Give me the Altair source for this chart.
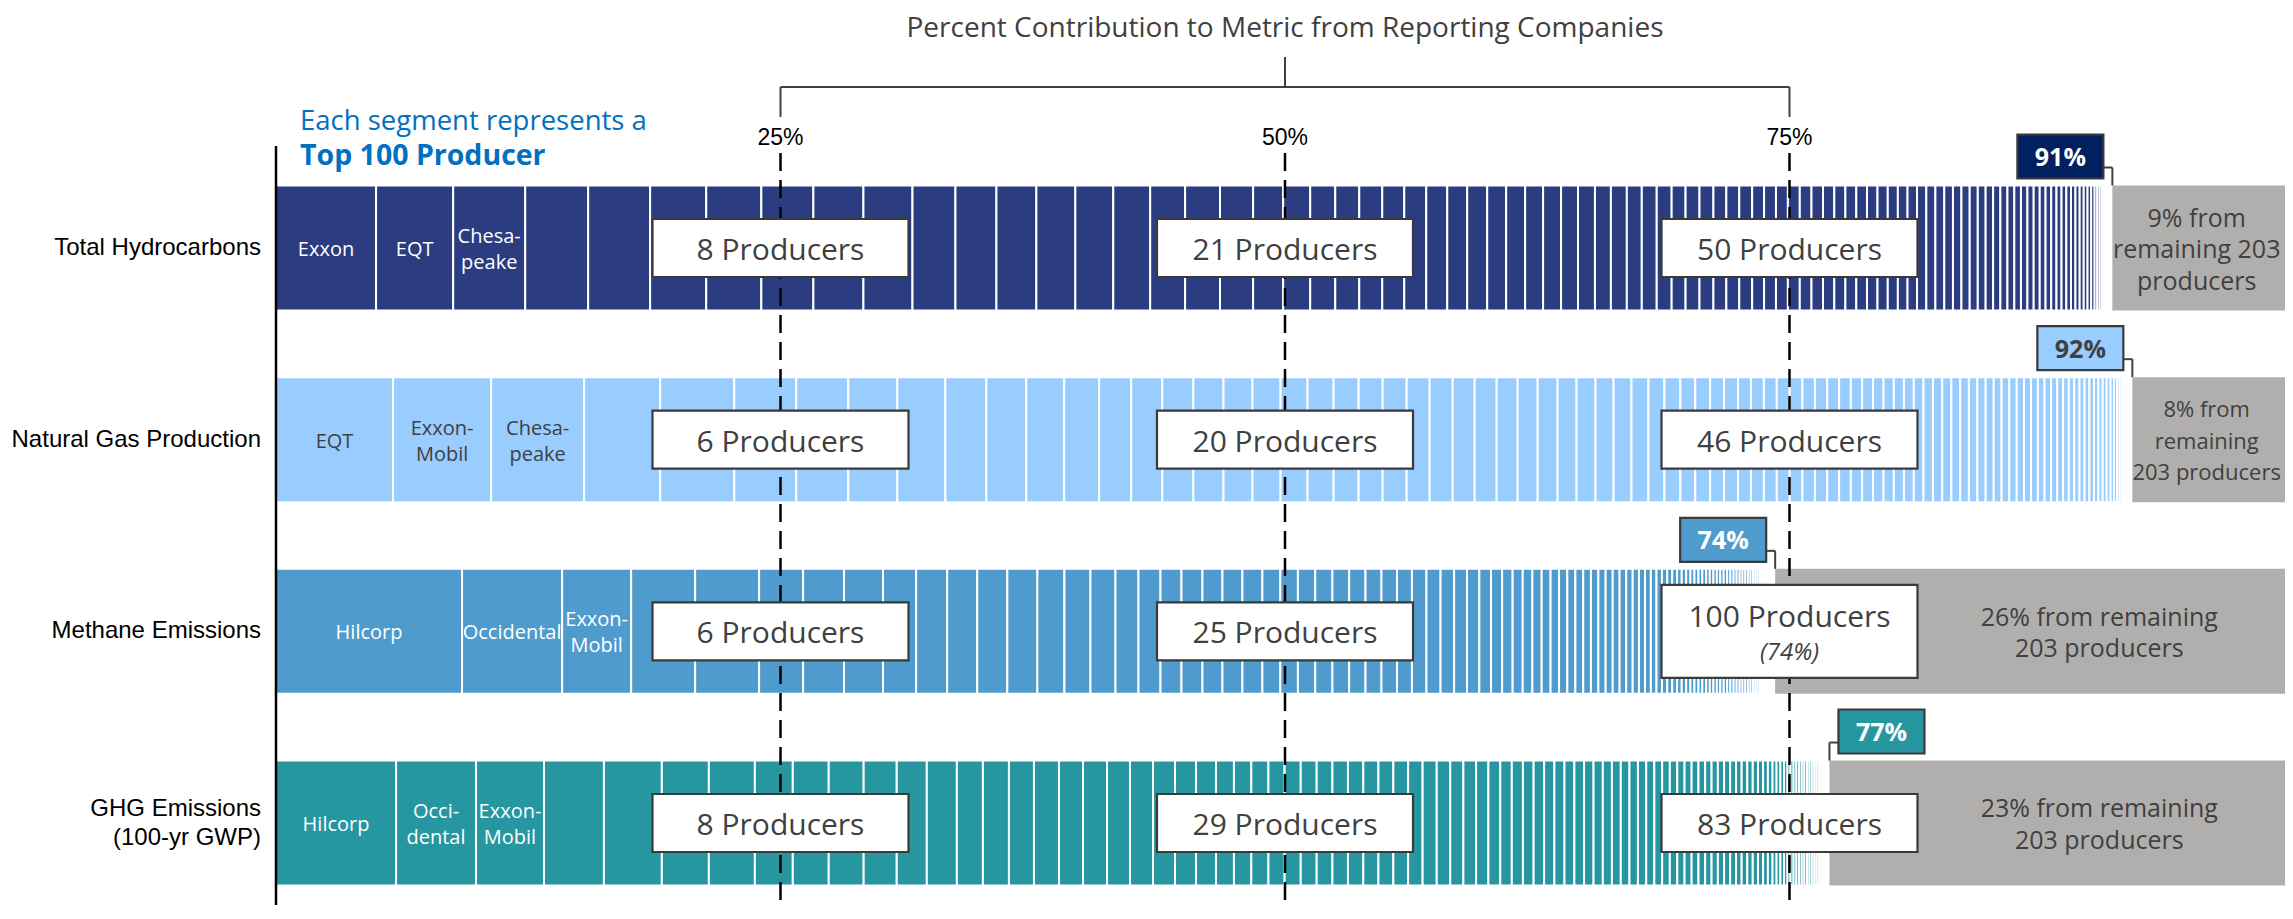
import altair as alt
import pandas as pd
import numpy as np

# ---------------- data ----------------
metrics = ["Total Hydrocarbons", "Natural Gas Production", "Methane Emissions",
           "GHG Emissions\n(100-yr GWP)"]
bar_colors = ["#2B3C80", "#99CCFF", "#4F9BCD", "#2696A0"]

# percent contribution of each of the top-100 producers (largest first)
shares_total_hc = [
    4.96, 3.82, 3.57, 3.12, 3.07, 2.78, 2.73, 2.58, 2.48, 2.43,
    2.13, 2.03, 1.98, 1.93, 1.88, 1.83, 1.73, 1.73, 1.64, 1.49,
    1.34, 1.24, 1.19, 1.14, 1.09, 1.09, 1.04, 0.99, 0.99, 0.94,
    0.94, 0.89, 0.89, 0.84, 0.84, 0.79, 0.79, 0.74, 0.74, 0.74,
    0.69, 0.69, 0.69, 0.64, 0.64, 0.64, 0.59, 0.59, 0.59,
    0.59, 0.58, 0.57, 0.56, 0.55, 0.54, 0.53, 0.52, 0.51, 0.50,
    0.48, 0.47, 0.46, 0.45, 0.44, 0.43, 0.42, 0.41, 0.40, 0.39,
    0.37, 0.36, 0.35, 0.34, 0.33, 0.32, 0.31, 0.30, 0.29, 0.28,
    0.26, 0.25, 0.24, 0.23, 0.22, 0.21, 0.20, 0.19, 0.18, 0.17,
    0.13, 0.12, 0.11, 0.10, 0.09, 0.08, 0.07, 0.06, 0.05, 0.04, 0.03,
]
shares_nat_gas = [
    5.80, 4.86, 4.61, 3.77, 3.67, 3.07, 2.58, 2.43, 2.38, 2.03,
    1.98, 1.88, 1.73, 1.59, 1.54, 1.54, 1.49, 1.44, 1.39,
    1.34, 1.29, 1.24, 1.19, 1.19, 1.14, 1.14, 1.09, 1.09, 1.04,
    0.99, 0.99, 0.94, 0.94, 0.89, 0.89, 0.84, 0.79, 0.79, 0.74,
    0.74, 0.69, 0.69, 0.64, 0.64, 0.64,
    0.64, 0.63, 0.62, 0.61, 0.59, 0.58, 0.56, 0.54, 0.52, 0.51,
    0.50, 0.49, 0.48, 0.47, 0.46, 0.45, 0.44, 0.43, 0.42, 0.41,
    0.40, 0.39, 0.38, 0.37, 0.36, 0.35, 0.34, 0.33, 0.32, 0.31,
    0.29, 0.28, 0.27, 0.26, 0.25, 0.24, 0.23, 0.22, 0.21, 0.20,
    0.19, 0.17, 0.15, 0.13, 0.11, 0.10, 0.08, 0.07, 0.06, 0.05,
    0.04, 0.04, 0.03, 0.03, 0.02,
]
shares_methane = [
    9.22, 4.96, 3.42, 3.17, 3.17, 2.18, 2.03, 1.93, 1.64, 1.54,
    1.49, 1.49, 1.49, 1.34, 1.29, 1.24, 1.14, 1.09, 1.04, 1.04,
    0.99, 0.99, 0.99, 0.89,
    0.87, 0.86, 0.85, 0.83, 0.81, 0.79, 0.77, 0.74, 0.72, 0.70,
    0.67, 0.64, 0.61, 0.58, 0.55, 0.52, 0.50, 0.48, 0.46, 0.44,
    0.42, 0.41, 0.40, 0.39, 0.38, 0.37, 0.36, 0.35, 0.34, 0.33,
    0.32, 0.31, 0.30, 0.29, 0.28, 0.27, 0.26, 0.25, 0.24, 0.23,
    0.22, 0.21, 0.20, 0.20, 0.19, 0.19, 0.18, 0.18, 0.17, 0.17,
    0.17, 0.17, 0.16, 0.16, 0.15, 0.15, 0.14, 0.14, 0.13, 0.13,
    0.12, 0.12, 0.11, 0.11, 0.10, 0.10, 0.09, 0.09, 0.08, 0.08,
    0.06, 0.05, 0.04, 0.03, 0.02, 0.02,
]
shares_ghg = [
    5.95, 3.96, 3.37, 2.97, 2.87, 2.33, 2.28, 1.88, 1.78, 1.73,
    1.64, 1.49, 1.49, 1.29, 1.29, 1.24, 1.24, 1.19, 1.19, 1.14,
    1.14, 1.09, 1.04, 0.99, 0.89, 0.86, 0.85, 0.80,
    0.80, 0.79, 0.78, 0.77, 0.76, 0.75, 0.74, 0.73, 0.72, 0.70,
    0.67, 0.65, 0.63, 0.61, 0.59, 0.57, 0.55, 0.53, 0.52, 0.51,
    0.50, 0.49, 0.48, 0.47, 0.46, 0.45, 0.44, 0.43, 0.42, 0.41,
    0.40, 0.39, 0.38, 0.37, 0.36, 0.35, 0.34, 0.33, 0.32, 0.31,
    0.31, 0.30, 0.29, 0.28, 0.28, 0.27, 0.26, 0.25, 0.24, 0.23,
    0.20, 0.19, 0.18, 0.17,
    0.15, 0.15, 0.14, 0.14, 0.13, 0.13, 0.13, 0.12, 0.12, 0.12,
    0.11, 0.11, 0.10, 0.10, 0.09, 0.09, 0.08, 0.07,
]
shares = [shares_total_hc, shares_nat_gas, shares_methane, shares_ghg]

top_names = [["Exxon", "EQT", "Chesa-\npeake"],
             ["EQT", "Exxon-\nMobil", "Chesa-\npeake"],
             ["Hilcorp", "Occidental", "Exxon-\nMobil"],
             ["Hilcorp", "Occi-\ndental", "Exxon-\nMobil"]]
name_colors = ["white", "#404040", "white", "white"]

thresholds = [25, 50, 75]
threshold_labels = ["25%", "50%", "75%"]
producers_needed = [[8, 21, 50], [6, 20, 46], [6, 25, 100], [8, 29, 83]]
box_notes = [["", "", ""], ["", "", ""], ["", "", "(74%)"], ["", "", ""]]

top100_labels = ["91%", "92%", "74%", "77%"]
callout_fill = ["#002060", "#99CCFF", "#4F9BCD", "#2696A0"]
callout_text_color = ["white", "#404040", "white", "white"]
callout_side = ["left", "left", "left", "right"]

remaining_labels = ["9% from\nremaining 203\nproducers",
                    "8% from\nremaining\n203 producers",
                    "26% from remaining\n203 producers",
                    "23% from remaining\n203 producers"]

title_text = "Percent Contribution to Metric from Reporting Companies"

# ---------------- layout constants ----------------
W, H = 2009, 738
PAD_L, PAD_T = 268, 159
PXP = 20.18                # pixels per percent
X_MAX = W / PXP
ROW_PX = 191.67            # pixels between row centres
Y_TOP = -81 / ROW_PX
Y_BOT = Y_TOP + H / ROW_PX
BAR_HALF = 62.5
BOX_HALF_W = 128
REM_FONT = [25, 22, 25, 25]
NAME_LH, REM_LH, ROW_LH = 26, 31.5, 29
GRAY = "#B0AFAE"
DARK = "#404040"
FONT = "Open Sans"
AFONT = "Liberation Sans"

XS = alt.Scale(domain=[0, X_MAX], nice=False, zero=False)
YS = alt.Scale(domain=[Y_TOP, Y_BOT], reverse=True, nice=False, zero=False)


def X(f):
    return alt.X(f"{f}:Q", scale=XS, axis=None)


def Y(f):
    return alt.Y(f"{f}:Q", scale=YS, axis=None)


def X2(f):
    return alt.X2(f"{f}:Q")


def Y2(f):
    return alt.Y2(f"{f}:Q")


def block_shift(text, line_height):
    """offset (row units) that vertically centres a multi-line text block"""
    n = text.count("\n") + 1
    return -(n - 1) / 2 * line_height / ROW_PX


# ---------------- tables ----------------
seg, names, boxes, box_txt, call, gray, rem, rowlab = [], [], [], [], [], [], [], []
for i, (m, sh) in enumerate(zip(metrics, shares)):
    cum = np.concatenate([[0.0], np.cumsum(sh)])
    total = float(cum[-1])
    for k in range(len(sh)):
        seg.append(dict(metric=m, x0=float(cum[k]), x1=float(cum[k + 1]),
                        y0=i - BAR_HALF / ROW_PX, y1=i + BAR_HALF / ROW_PX))
    for k, nm in enumerate(top_names[i]):
        names.append(dict(x=float(cum[k] + cum[k + 1]) / 2,
                          y=i + 2 / ROW_PX + block_shift(nm, NAME_LH), t=nm,
                          c=name_colors[i]))
    gray.append(dict(x0=total, x1=100.0, y0=i - BAR_HALF / ROW_PX, y1=i + BAR_HALF / ROW_PX))
    for j, thr in enumerate(thresholds):
        note = box_notes[i][j]
        hh = 46.5 if note else 29
        boxes.append(dict(x0=thr - BOX_HALF_W / PXP, x1=thr + BOX_HALF_W / PXP,
                          y0=i - hh / ROW_PX, y1=i + hh / ROW_PX))
        box_txt.append(dict(x=float(thr), y=i + (-13 if note else 3) / ROW_PX,
                            t=f"{producers_needed[i][j]} Producers", kind="main"))
        if note:
            box_txt.append(dict(x=float(thr), y=i + 22 / ROW_PX, t=note, kind="note"))
    if callout_side[i] == "left":
        bx1 = total - 9 / PXP
        bx0 = bx1 - 86 / PXP
        cx0, cx1 = bx1, total
    else:
        bx0 = total + 9 / PXP
        bx1 = bx0 + 86 / PXP
        cx0, cx1 = total, bx0
    call.append(dict(bx0=bx0, bx1=bx1, by0=i - 113.5 / ROW_PX, by1=i - 69.5 / ROW_PX,
                     tx=(bx0 + bx1) / 2, ty=i - 90 / ROW_PX, t=top100_labels[i],
                     fc=callout_fill[i], tc=callout_text_color[i],
                     cx0=cx0, cx1=cx1, cy=i - 80.5 / ROW_PX, vx=total,
                     vy0=i - 80.5 / ROW_PX, vy1=i - BAR_HALF / ROW_PX))
    free_left = max(total, thresholds[-1] + BOX_HALF_W / PXP)
    rem.append(dict(x=(free_left + min(100.0, X_MAX)) / 2 - 2 / PXP,
                    y=i + 2 / ROW_PX + block_shift(remaining_labels[i], REM_LH),
                    t=remaining_labels[i], fs=REM_FONT[i]))
    rowlab.append(dict(y=i + block_shift(m, ROW_LH), t=m))

seg, names, boxes, box_txt = map(pd.DataFrame, [seg, names, boxes, box_txt])
call, gray, rem, rowlab = map(pd.DataFrame, [call, gray, rem, rowlab])
thr_df = pd.DataFrame(dict(x=[float(t) for t in thresholds], t=threshold_labels))
ends_df = thr_df[thr_df["x"] != thresholds[1]]
mid_df = thr_df[thr_df["x"] == thresholds[1]].assign(t=title_text)
span_df = pd.DataFrame(dict(x0=[float(thresholds[0])], x1=[float(thresholds[-1])]))
zero_df = pd.DataFrame(dict(x=[0.0], t1=["Each segment represents a"], t2=["Top 100 Producer"]))

# ---------------- layers ----------------
segments = alt.Chart(seg).mark_rect(stroke="white", strokeWidth=2).encode(
    x=X("x0"), x2=X2("x1"), y=Y("y0"), y2=Y2("y1"),
    color=alt.Color("metric:N", scale=alt.Scale(domain=metrics, range=bar_colors), legend=None),
)
gray_bars = alt.Chart(gray).mark_rect(color=GRAY, clip=True).encode(
    x=X("x0"), x2=X2("x1"), y=Y("y0"), y2=Y2("y1"))
name_text = alt.Chart(names).mark_text(font=FONT, fontSize=20, lineBreak="\n",
                                       lineHeight=NAME_LH, align="center",
                                       baseline="middle").encode(
    x=X("x"), y=Y("y"), text="t:N", color=alt.Color("c:N", scale=None))

axis_line = alt.Chart(zero_df).mark_rule(color="black", strokeWidth=2.5).encode(
    x=X("x"), y=alt.value(-21), y2=alt.value(H))
dashed = alt.Chart(thr_df).mark_rule(color="black", strokeWidth=2.5, strokeDash=[18, 9]).encode(
    x=X("x"), y=alt.value(-14), y2=alt.value(H))
pct_labels = alt.Chart(thr_df).mark_text(font=AFONT, fontSize=23, color="black",
                                         baseline="middle").encode(
    x=X("x"), y=alt.value(-29), text="t:N")

prod_boxes = alt.Chart(boxes).mark_rect(fill="white", stroke="#3A3A3A", strokeWidth=2.2).encode(
    x=X("x0"), x2=X2("x1"), y=Y("y0"), y2=Y2("y1"))
prod_main = alt.Chart(box_txt[box_txt["kind"] == "main"]).mark_text(
    font=FONT, fontSize=30, color=DARK, baseline="middle").encode(x=X("x"), y=Y("y"), text="t:N")
prod_note = alt.Chart(box_txt[box_txt["kind"] == "note"]).mark_text(
    font=FONT, fontSize=24, fontStyle="italic", color=DARK, baseline="middle").encode(
    x=X("x"), y=Y("y"), text="t:N")

conn_h = alt.Chart(call).mark_rule(color=DARK, strokeWidth=2).encode(
    x=X("cx0"), x2=X2("cx1"), y=Y("cy"))
conn_v = alt.Chart(call).mark_rule(color=DARK, strokeWidth=2).encode(
    x=X("vx"), y=Y("vy0"), y2=Y2("vy1"))
call_box = alt.Chart(call).mark_rect(stroke="#3A3A3A", strokeWidth=2.2).encode(
    x=X("bx0"), x2=X2("bx1"), y=Y("by0"), y2=Y2("by1"), fill=alt.Fill("fc:N", scale=None))
call_txt = alt.Chart(call).mark_text(font=FONT, fontSize=25, fontWeight="bold",
                                     baseline="middle").encode(
    x=X("tx"), y=Y("ty"), text="t:N", color=alt.Color("tc:N", scale=None))

rem_txt = alt.Chart(rem).mark_text(font=FONT, color=DARK, lineBreak="\n",
                                   lineHeight=REM_LH, baseline="middle").encode(
    x=X("x"), y=Y("y"), text="t:N", size=alt.Size("fs:Q", scale=None))
row_txt = alt.Chart(rowlab).mark_text(font=AFONT, fontSize=24, color="black", lineBreak="\n",
                                      lineHeight=ROW_LH, align="right",
                                      baseline="middle").encode(
    x=alt.value(-15), y=Y("y"), text="t:N")

bracket_h = alt.Chart(span_df).mark_rule(color=DARK, strokeWidth=2).encode(
    x=X("x0"), x2=X2("x1"), y=alt.value(-80))
bracket_ends = alt.Chart(ends_df).mark_rule(color=DARK, strokeWidth=2).encode(
    x=X("x"), y=alt.value(-80), y2=alt.value(-50))
bracket_mid = alt.Chart(mid_df).mark_rule(color=DARK, strokeWidth=2).encode(
    x=X("x"), y=alt.value(-110), y2=alt.value(-80))
title = alt.Chart(mid_df).mark_text(font=FONT, fontSize=28, color=DARK,
                                    baseline="middle").encode(
    x=X("x"), y=alt.value(-138), text="t:N")
note1 = alt.Chart(zero_df).mark_text(font=FONT, fontSize=27.5, color="#0070C0", align="left",
                                     baseline="alphabetic", dx=24).encode(
    x=X("x"), y=alt.value(-37), text="t1:N")
note2 = alt.Chart(zero_df).mark_text(font=FONT, fontSize=28.5, fontWeight="bold", color="#0070C0",
                                     align="left", baseline="alphabetic", dx=24).encode(
    x=X("x"), y=alt.value(-2), text="t2:N")

chart = alt.layer(
    segments, gray_bars, name_text, dashed, axis_line, pct_labels,
    prod_boxes, prod_main, prod_note, conn_h, conn_v, call_box, call_txt,
    rem_txt, row_txt, bracket_h, bracket_ends, bracket_mid, title, note1, note2,
).properties(
    width=W, height=H,
    padding={"left": PAD_L, "top": PAD_T, "right": 0, "bottom": 0},
    autosize=alt.AutoSizeParams(type="none"),
).configure_view(strokeWidth=0)

chart.save("out.html", embed_options={"renderer": "svg", "actions": False})
